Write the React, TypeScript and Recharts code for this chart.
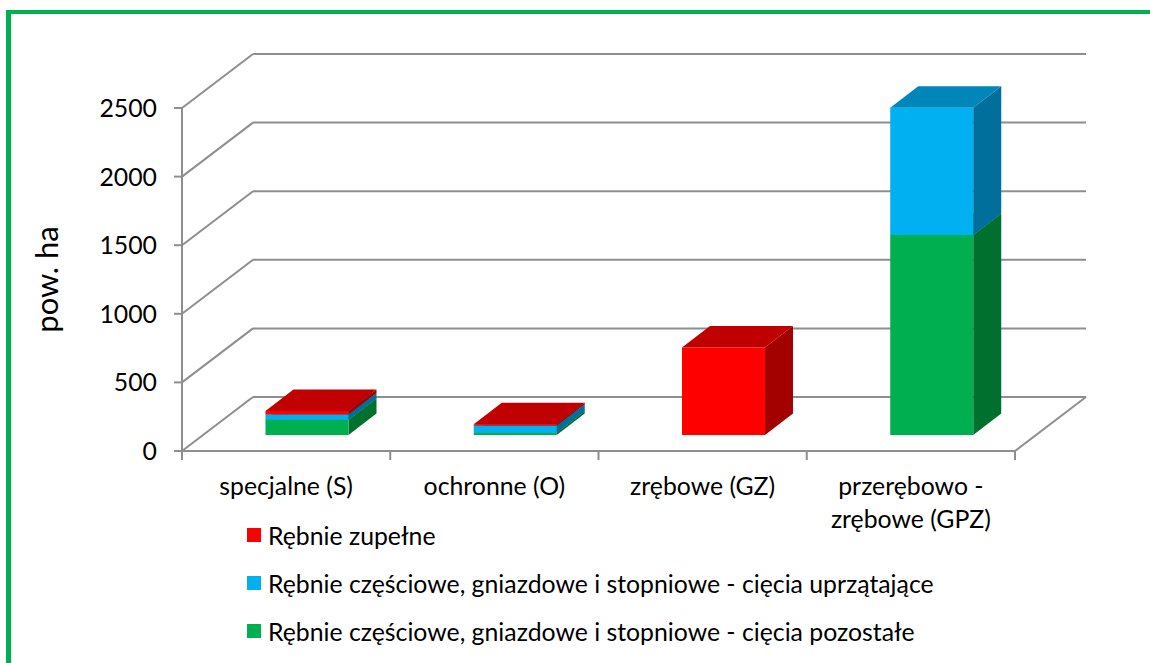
import React from 'react';
import { BarChart, Bar, XAxis, YAxis, CartesianGrid, Legend } from 'recharts';

// ---- data ----
const categories = ['specjalne (S)', 'ochronne (O)', 'zrębowe (GZ)', 'przerębowo -\nzrębowe (GPZ)'];
const rebnieZupelne = [25, 10, 638, 0];
const cieciaUprzatajace = [40, 52, 0, 928];
const cieciaPozostale = [110, 16, 0, 1458];
const yTicks = [0, 500, 1000, 1500, 2000, 2500];
const seriesNames = [
  'Rębnie częściowe, gniazdowe i stopniowe - cięcia pozostałe',
  'Rębnie częściowe, gniazdowe i stopniowe - cięcia uprzątające',
  'Rębnie zupełne',
];
const yTitle = 'pow. ha';

const data = categories.map((name, i) => ({
  name,
  pozostale: cieciaPozostale[i],
  uprzatajace: cieciaUprzatajace[i],
  zupelne: rebnieZupelne[i],
}));

// ---- layout / style ----
const W = 1150;
const H = 663;
const PLOT_L = 182;
const PLOT_R = 1015;
const PLOT_T = 108;
const PLOT_B = 451;
const YAXIS_W = 100;
const XAXIS_H = 60;
const DX = 71; // wall depth
const DY = -54;
const FX = 21; // bar front-face offset into depth
const FY = -16;
const BDX = 28; // bar depth
const BDY = -21.5;
const GRID = '#8e8e8e';
const FONT = "Lato, 'Open Sans', sans-serif";
const FS = 24.8;
const TITLE_FS = 31;
const TITLE_X = 47;

const COLORS = {
  pozostale: { front: '#00B050', top: '#00883D', side: '#00702F' },
  uprzatajace: { front: '#00B0F0', top: '#0086B8', side: '#006F9C' },
  zupelne: { front: '#FF0000', top: '#C00000', side: '#A30000' },
};

const makeBox = (c: { front: string; top: string; side: string }) => (p: any) => {
  const { x, y, width, height } = p;
  if (!height || height <= 0) return <g />;
  const fx = x + FX;
  const fy = y + FY;
  const sideD = `M${fx + width},${fy}L${fx + width + BDX},${fy + BDY}L${fx + width + BDX},${fy + height + BDY}L${fx + width},${fy + height}Z`;
  const topD = `M${fx},${fy}L${fx + BDX},${fy + BDY}L${fx + width + BDX},${fy + BDY}L${fx + width},${fy}Z`;
  return (
    <g>
      <path d={sideD} fill={c.side} />
      <path d={topD} fill={c.top} />
      <rect x={fx} y={fy} width={width} height={height} fill={c.front} />
    </g>
  );
};

const gridLine = (p: any) => {
  const { x1, y1, x2, y2 } = p;
  const isFloor = Math.abs(y1 - (p.y + p.height)) < 0.5;
  return (
    <g key={p.key ?? `gl-${p.index}`}>
      <line x1={x1} y1={y1} x2={x1 + DX} y2={y1 + DY} stroke={GRID} strokeWidth={2} />
      <line x1={x1 + DX} y1={y1 + DY} x2={x2 + DX} y2={y2 + DY} stroke={GRID} strokeWidth={2} />
      {isFloor && <line x1={x2} y1={y2} x2={x2 + DX} y2={y2 + DY} stroke={GRID} strokeWidth={2} />}
    </g>
  );
};

const YTick = (p: any) => {
  const { x, y, payload } = p;
  return (
    <text x={x} y={y} dy="0.36em" textAnchor="end" fontFamily={FONT} fontSize={FS} fill="#000">
      {payload.value}
    </text>
  );
};

const XTick = (p: any) => {
  const { x, y, payload, index } = p;
  const bw = (PLOT_R - PLOT_L) / categories.length;
  const lines = String(payload.value).split('\n');
  return (
    <g>
      <line x1={x - bw / 2} y1={y} x2={x - bw / 2} y2={y + 9} stroke={GRID} strokeWidth={2} />
      {index === categories.length - 1 && (
        <line x1={x + bw / 2} y1={y} x2={x + bw / 2} y2={y + 9} stroke={GRID} strokeWidth={2} />
      )}
      <text x={x} y={y + 44} textAnchor="middle" fontFamily={FONT} fontSize={FS} fill="#000">
        {lines.map((l, i) => (
          <tspan key={i} x={x} dy={i === 0 ? 0 : 33}>
            {l}
          </tspan>
        ))}
      </text>
    </g>
  );
};

const LegendContent = (props: any) => {
  const items = [...(props.payload || [])].reverse();
  return (
    <div style={{ fontFamily: FONT, fontSize: FS, color: '#000' }}>
      {items.map((it: any, i: number) => (
        <div key={i} style={{ display: 'flex', alignItems: 'center', height: 48, whiteSpace: 'nowrap' }}>
          <span style={{ display: 'inline-block', width: 14, height: 14, background: it.color, marginRight: 7 }} />
          <span>{it.value}</span>
        </div>
      ))}
    </div>
  );
};

export default function App() {
  return (
    <div style={{ position: 'absolute', left: 0, top: 0, width: W, height: H, overflow: 'hidden', background: '#fff' }}>
      <div
        style={{
          position: 'absolute',
          left: 6,
          top: 10,
          width: 1300,
          height: 800,
          borderLeft: '5px solid #00B050',
          borderTop: '4px solid #00B050',
        }}
      />
      <div style={{ position: 'absolute', left: 0, top: 0 }}>
        <BarChart
          width={W}
          height={H}
          data={data}
          barCategoryGap="30%"
          margin={{ top: PLOT_T, left: PLOT_L - YAXIS_W, right: W - PLOT_R, bottom: H - PLOT_B - XAXIS_H }}
        >
          <CartesianGrid vertical={false} horizontal={gridLine} />
          <XAxis
            dataKey="name"
            height={XAXIS_H}
            interval={0}
            tickLine={false}
            tickSize={0}
            tickMargin={0}
            axisLine={{ stroke: GRID, strokeWidth: 2 }}
            tick={XTick}
          />
          <YAxis
            width={YAXIS_W}
            domain={[0, 2500]}
            ticks={yTicks}
            interval={0}
            tickSize={8}
            tickMargin={17}
            tickLine={{ stroke: GRID, strokeWidth: 2 }}
            axisLine={{ stroke: GRID, strokeWidth: 2 }}
            tick={YTick}
            label={{
              content: (lp: any) => {
                const vb = lp.viewBox || {};
                const cy = (vb.y ?? PLOT_T) + (vb.height ?? PLOT_B - PLOT_T) / 2;
                return (
                  <text
                    x={TITLE_X}
                    y={cy}
                    transform={`rotate(-90 ${TITLE_X} ${cy})`}
                    textAnchor="middle"
                    dy="0.35em"
                    fontFamily={FONT}
                    fontSize={TITLE_FS}
                    fill="#000"
                  >
                    {yTitle}
                  </text>
                );
              },
            }}
          />
          <Legend
            layout="horizontal"
            verticalAlign="middle"
            align="center"
            content={LegendContent}
            wrapperStyle={{ left: 247, top: 511, width: 'auto', height: 'auto' }}
          />
          <Bar dataKey="pozostale" name={seriesNames[0]} stackId="a" fill={COLORS.pozostale.front} shape={makeBox(COLORS.pozostale)} isAnimationActive={false} />
          <Bar dataKey="uprzatajace" name={seriesNames[1]} stackId="a" fill={COLORS.uprzatajace.front} shape={makeBox(COLORS.uprzatajace)} isAnimationActive={false} />
          <Bar dataKey="zupelne" name={seriesNames[2]} stackId="a" fill={COLORS.zupelne.front} shape={makeBox(COLORS.zupelne)} isAnimationActive={false} />
        </BarChart>
      </div>
    </div>
  );
}
